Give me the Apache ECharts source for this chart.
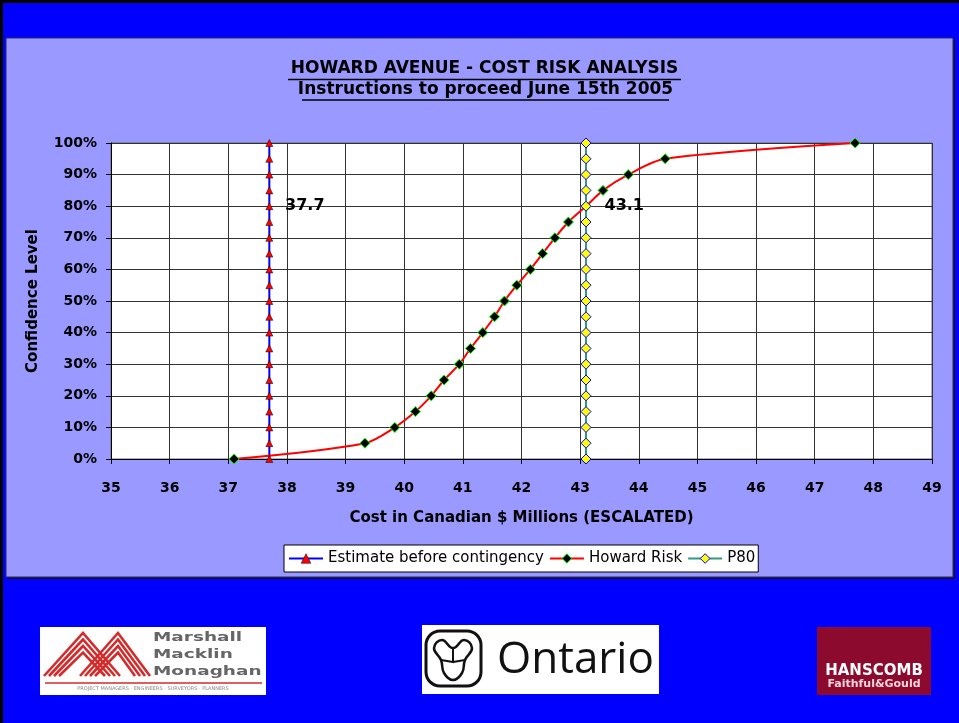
<!DOCTYPE html>
<html>
<head>
<meta charset="utf-8">
<script src="https://cdn.jsdelivr.net/npm/echarts@6/dist/echarts.min.js"></script>
<style>
html, body { margin: 0; padding: 0; background: #0000ff; }
#chart { width: 959px; height: 723px; }
</style>
</head>
<body>
<div id="chart"></div>
<script>
var chart = echarts.init(document.getElementById('chart'));

// data
var confidenceLevels = [0, 5, 10, 15, 20, 25, 30, 35, 40, 45, 50, 55, 60, 65, 70, 75, 80, 85, 90, 95, 100];
var howardRiskCost = [37.10, 39.33, 39.84, 40.19, 40.46, 40.68, 40.94, 41.13, 41.34, 41.54, 41.71, 41.92, 42.15, 42.36, 42.57, 42.80, 43.10, 43.39, 43.82, 44.45, 47.69];
var estimateCost = 37.7;
var p80Cost = 43.1;
var labelLevel = 80;
var seriesNames = ['Estimate before contingency', 'Howard Risk', 'P80'];
var xRange = [35, 49];
var yRange = [0, 100];

var FONT = 'DejaVu Sans, Verdana, sans-serif';

var estimateStyle = { color: '#ff0000', borderColor: '#000', borderWidth: 0.5 };
var howardStyle = { color: '#000', borderColor: '#00ff00', borderWidth: 1 };
var p80Style = { color: '#ffff00', borderColor: '#0000ff', borderWidth: 1 };

function vertical(cost) {
  return confidenceLevels.map(function (c) { return [cost, c]; });
}
function levelLabel(text, dist) {
  return {
    show: true,
    position: 'right',
    distance: dist,
    color: '#000',
    fontFamily: FONT,
    fontWeight: 'bold',
    fontSize: 16,
    formatter: function (p) { return p.value[1] === labelLevel ? text : ''; }
  };
}

// M stripes for the first logo
function mStripes() {
  var out = [];
  var peaks = [[44, 83, 120], [80, 118, 150]];
  peaks.forEach(function (pk) {
    for (var k = 0; k < 4; k++) {
      var d = k * 5;
      out.push({
        type: 'polyline', z: 5,
        shape: { points: [[pk[0] + d, 676], [pk[1], 633 + d * 1.3], [pk[2] - d, 676]] },
        style: { stroke: '#d42a2a', lineWidth: 2.6, fill: null }
      });
    }
  });
  return out;
}

var graphics = [
  { type: 'rect', z: -10, shape: { x: 0, y: 0, width: 959, height: 723 }, style: { fill: '#0000ff' } },
  { type: 'rect', z: -9, shape: { x: 0, y: 0, width: 959, height: 3 }, style: { fill: '#000' } },
  { type: 'rect', z: -9, shape: { x: 0, y: 0, width: 3, height: 723 }, style: { fill: '#000' } },
  { type: 'rect', z: -9, shape: { x: 8, y: 40, width: 947, height: 539 }, style: { fill: '#10103a' } },
  { type: 'rect', z: -8, shape: { x: 6, y: 38, width: 947, height: 539 }, style: { fill: '#9999ff', stroke: '#2a2a60', lineWidth: 1 } },

  // title
  { type: 'text', z: 5, x: 484.5, y: 69, style: { text: 'HOWARD AVENUE - COST RISK ANALYSIS', font: 'bold 17px ' + FONT, fill: '#000', align: 'center', verticalAlign: 'middle' } },
  { type: 'line', z: 5, shape: { x1: 288, y1: 79.5, x2: 681, y2: 79.5 }, style: { stroke: '#000', lineWidth: 1.5 } },
  { type: 'text', z: 5, x: 485.5, y: 90, style: { text: 'Instructions to proceed June 15th 2005', font: 'bold 17px ' + FONT, fill: '#000', align: 'center', verticalAlign: 'middle' } },
  { type: 'line', z: 5, shape: { x1: 302, y1: 100, x2: 669, y2: 100 }, style: { stroke: '#000', lineWidth: 1.5 } },

  // Marshall Macklin Monaghan logo
  { type: 'rect', z: 4, shape: { x: 40, y: 627, width: 226, height: 68 }, style: { fill: '#fff' } },
  { type: 'text', z: 5, x: 153, y: 638, scaleX: 1.42, style: { text: 'Marshall', font: 'bold 13px ' + FONT, fill: '#666', verticalAlign: 'middle' } },
  { type: 'text', z: 5, x: 153, y: 655, scaleX: 1.42, style: { text: 'Macklin', font: 'bold 13px ' + FONT, fill: '#666', verticalAlign: 'middle' } },
  { type: 'text', z: 5, x: 153, y: 672, scaleX: 1.42, style: { text: 'Monaghan', font: 'bold 13px ' + FONT, fill: '#666', verticalAlign: 'middle' } },
  { type: 'line', z: 5, shape: { x1: 45, y1: 683, x2: 262, y2: 683 }, style: { stroke: '#d42a2a', lineWidth: 1.5 } },
  { type: 'text', z: 5, x: 153, y: 689, style: { text: 'PROJECT MANAGERS · ENGINEERS · SURVEYORS · PLANNERS', font: '5px ' + FONT, fill: '#888', align: 'center', verticalAlign: 'middle' } },

  // Ontario logo
  { type: 'rect', z: 4, shape: { x: 422, y: 625, width: 237, height: 69 }, style: { fill: '#fff' } },
  { type: 'rect', z: 5, shape: { x: 426, y: 631, width: 55, height: 55, r: 14 }, style: { fill: null, stroke: '#111', lineWidth: 3 } },
  { type: 'polygon', z: 5, shape: { smooth: 0.45, points: [[453, 648], [464, 640], [472, 648], [465, 660], [462, 673], [453, 680], [444, 673], [441, 660], [434, 648], [442, 640]] }, style: { fill: null, stroke: '#111', lineWidth: 2.5 } },
  { type: 'polyline', z: 5, shape: { points: [[453, 648], [453, 662], [441, 660]] }, style: { fill: null, stroke: '#111', lineWidth: 2 } },
  { type: 'line', z: 5, shape: { x1: 453, y1: 662, x2: 465, y2: 660 }, style: { stroke: '#111', lineWidth: 2 } },
  { type: 'text', z: 5, x: 497, y: 660, style: { text: 'Ontario', font: '44px Open Sans, sans-serif', fill: '#111', verticalAlign: 'middle' } },

  // Hanscomb logo
  { type: 'rect', z: 4, shape: { x: 817, y: 627, width: 114, height: 68 }, style: { fill: '#8c0a2e' } },
  { type: 'text', z: 5, x: 874, y: 671, style: { text: 'HANSCOMB', font: 'bold 15px ' + FONT, fill: '#fff', align: 'center', verticalAlign: 'middle' } },
  { type: 'text', z: 5, x: 874, y: 684, style: { text: 'Faithful&Gould', font: 'bold 11px ' + FONT, fill: '#f6d6de', align: 'center', verticalAlign: 'middle' } }
].concat(mStripes());

var tickText = { color: '#000', fontFamily: FONT, fontWeight: 'bold', fontSize: 14 };
var nameText = { color: '#000', fontFamily: FONT, fontWeight: 'bold', fontSize: 15 };

var option = {
  animation: false,
  backgroundColor: 'transparent',
  graphic: { elements: graphics },
  grid: { left: 111, right: 27, top: 143, bottom: 264, show: true, backgroundColor: '#fff', borderColor: '#666', borderWidth: 1 },
  legend: {
    data: [
      { name: seriesNames[0], itemStyle: estimateStyle },
      { name: seriesNames[1], itemStyle: howardStyle },
      { name: seriesNames[2], itemStyle: p80Style }
    ],
    left: 284, top: 545,
    backgroundColor: '#fff', borderColor: '#000', borderWidth: 1,
    padding: [6, 3, 6, 4],
    itemWidth: 34, itemHeight: 12, itemGap: 5,
    textStyle: { color: '#000', fontFamily: FONT, fontSize: 15 }
  },
  xAxis: {
    type: 'value', min: xRange[0], max: xRange[1], interval: 1,
    name: 'Cost in Canadian $ Millions (ESCALATED)', nameLocation: 'middle', nameGap: 52,
    nameTextStyle: nameText,
    axisLine: { show: true, onZero: false, lineStyle: { color: '#000', width: 1 } },
    axisTick: { show: true, length: 5, lineStyle: { color: '#000' } },
    axisLabel: Object.assign({ margin: 22 }, tickText),
    splitLine: { show: true, lineStyle: { color: '#333', width: 1 } }
  },
  yAxis: {
    type: 'value', min: yRange[0], max: yRange[1], interval: 10,
    name: 'Confidence Level', nameLocation: 'middle', nameGap: 70, nameRotate: 90,
    nameTextStyle: nameText,
    axisLine: { show: true, onZero: false, lineStyle: { color: '#000', width: 1 } },
    axisTick: { show: true, length: 5, lineStyle: { color: '#000' } },
    axisLabel: Object.assign({ margin: 14, formatter: '{value}%' }, tickText),
    splitLine: { show: true, lineStyle: { color: '#333', width: 1 } }
  },
  series: [{
    name: seriesNames[0],
    type: 'line',
    data: vertical(estimateCost),
    symbol: 'triangle', symbolSize: 7,
    itemStyle: estimateStyle,
    lineStyle: { color: '#0000ff', width: 2 },
    label: levelLabel(String(estimateCost), 12)
  }, {
    name: seriesNames[1],
    type: 'line',
    data: howardRiskCost.map(function (v, i) { return [v, confidenceLevels[i]]; }),
    smooth: 0.3,
    symbol: 'diamond', symbolSize: 10,
    itemStyle: howardStyle,
    lineStyle: { color: '#ff0000', width: 2 }
  }, {
    name: seriesNames[2],
    type: 'line',
    data: vertical(p80Cost),
    symbol: 'diamond', symbolSize: 10,
    itemStyle: p80Style,
    lineStyle: { color: '#339980', width: 2 },
    label: levelLabel(String(p80Cost), 13)
  }]
};
chart.setOption(option);
</script>
</body>
</html>
